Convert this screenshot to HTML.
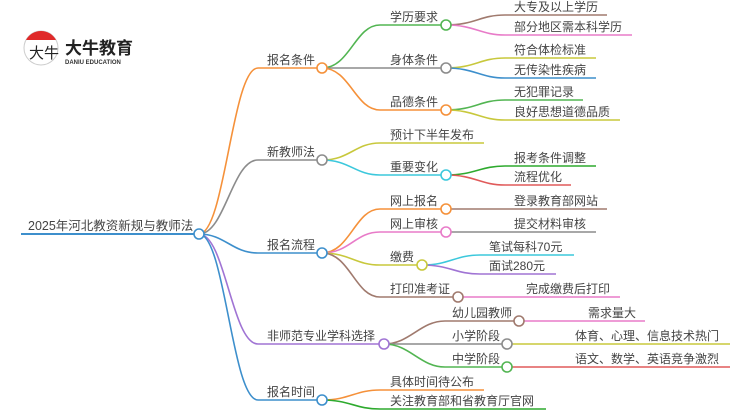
<!DOCTYPE html>
<html><head><meta charset="utf-8"><style>
body{margin:0;background:#fff;width:750px;height:410px;overflow:hidden}
text{font-family:"Liberation Sans","Noto Sans CJK SC",sans-serif;font-size:12px;fill:#444}
</style></head><body>
<svg width="750" height="410" viewBox="0 0 750 410" xmlns="http://www.w3.org/2000/svg" fill="none" stroke-width="1.6">
<!-- logo -->
<circle cx="41" cy="48" r="17" fill="#fff" stroke="#ccc" stroke-width="1"/>
<path d="M26 40 A17 17 0 0 1 56 40 Z" fill="#e02a2a" stroke="none"/>
<text x="29" y="58" style="font-size:15px;fill:#222">大牛</text>
<text x="65" y="54" style="font-size:17px;font-weight:bold;fill:#222">大牛教育</text>
<text x="65" y="64" style="font-size:6px;font-weight:bold;fill:#333">DANIU EDUCATION</text>

<!-- root -->
<path d="M21 234 H194" stroke="#3d8fcc" stroke-width="2"/>
<text x="28" y="230" style="font-size:12.5px">2025年河北教资新规与教师法</text>

<!-- root to level1 -->
<path d="M199 234 C225 234,232 68,258 68 H322" stroke="#f5913a"/>
<path d="M199 234 C225 234,232 160,258 160 H322" stroke="#8c8c8c"/>
<path d="M199 234 C225 234,232 253,258 253 H322" stroke="#3d8fcc"/>
<path d="M199 234 C225 234,232 344,258 344 H384" stroke="#a074d4"/>
<path d="M199 234 C225 234,232 400,258 400 H322" stroke="#3d8fcc"/>
<text x="267" y="64">报名条件</text>
<text x="267" y="156">新教师法</text>
<text x="267" y="249">报名流程</text>
<text x="267" y="340">非师范专业学科选择</text>
<text x="267" y="396">报名时间</text>

<!-- 报名条件 children -->
<path d="M322 68 C350 68,355 25,380 25 H446" stroke="#52b552"/>
<path d="M322 68 H446" stroke="#8c8c8c"/>
<path d="M322 68 C350 68,355 110,380 110 H446" stroke="#f5913a"/>
<text x="390" y="21">学历要求</text>
<text x="390" y="64">身体条件</text>
<text x="390" y="106">品德条件</text>
<path d="M446 25 C475 25,480 15,505 15 H607" stroke="#a07a6e"/>
<path d="M446 25 C475 25,480 35,505 35 H632" stroke="#e87bc8"/>
<path d="M446 68 C475 68,480 58,505 58 H596" stroke="#c8c83c"/>
<path d="M446 68 C475 68,480 78,505 78 H596" stroke="#3d8fcc"/>
<path d="M446 110 C475 110,480 100,505 100 H583" stroke="#52b552"/>
<path d="M446 110 C475 110,480 120,505 120 H620" stroke="#c8c83c"/>
<text x="514" y="11">大专及以上学历</text>
<text x="514" y="31">部分地区需本科学历</text>
<text x="514" y="54">符合体检标准</text>
<text x="514" y="74">无传染性疾病</text>
<text x="514" y="96">无犯罪记录</text>
<text x="514" y="116">良好思想道德品质</text>

<!-- 新教师法 -->
<path d="M322 160 C350 160,355 143,380 143 H484" stroke="#c8c83c"/>
<path d="M322 160 C350 160,355 175,380 175 H446" stroke="#3cc8dc"/>
<text x="390" y="139">预计下半年发布</text>
<text x="390" y="171">重要变化</text>
<path d="M446 175 C475 175,480 166,505 166 H596" stroke="#2eaa2e"/>
<path d="M446 175 C475 175,480 185,505 185 H571" stroke="#e05a5a"/>
<text x="514" y="162">报考条件调整</text>
<text x="514" y="181">流程优化</text>

<!-- 报名流程 -->
<path d="M322 253 C350 253,355 209,380 209 H446" stroke="#f5913a"/>
<path d="M322 253 C350 253,355 232,380 232 H446" stroke="#e87bc8"/>
<path d="M322 253 C350 253,355 265,380 265 H422" stroke="#c8c83c"/>
<path d="M322 253 C350 253,355 297,380 297 H458" stroke="#a07a6e"/>
<text x="390" y="205">网上报名</text>
<text x="390" y="228">网上审核</text>
<text x="390" y="261">缴费</text>
<text x="390" y="293">打印准考证</text>
<path d="M446 209 H607" stroke="#a07a6e"/>
<path d="M446 232 H596" stroke="#8c8c8c"/>
<path d="M422 265 C450 265,455 255,480 255 H574" stroke="#3cc8dc"/>
<path d="M422 265 C450 265,455 274,480 274 H556" stroke="#a074d4"/>
<path d="M458 297 H620" stroke="#e87bc8"/>
<text x="514" y="205">登录教育部网站</text>
<text x="514" y="228">提交材料审核</text>
<text x="489" y="251">笔试每科70元</text>
<text x="489" y="270">面试280元</text>
<text x="526" y="293">完成缴费后打印</text>

<!-- 非师范 -->
<path d="M384 344 C410 344,420 321,445 321 H519" stroke="#a07a6e"/>
<path d="M384 344 H507" stroke="#8c8c8c"/>
<path d="M384 344 C410 344,420 367,445 367 H507" stroke="#52b552"/>
<text x="452" y="317">幼儿园教师</text>
<text x="452" y="340">小学阶段</text>
<text x="452" y="363">中学阶段</text>
<path d="M519 321 H645" stroke="#e87bc8"/>
<path d="M507 344 H730" stroke="#c8c83c"/>
<path d="M507 367 H730" stroke="#e05a5a"/>
<text x="588" y="317">需求量大</text>
<text x="575" y="340">体育、心理、信息技术热门</text>
<text x="575" y="363">语文、数学、英语竞争激烈</text>

<!-- 报名时间 -->
<path d="M322 400 C350 400,355 390,380 390 H484" stroke="#f5913a"/>
<path d="M322 400 C350 400,355 409,380 409 H546" stroke="#2eaa2e"/>
<text x="390" y="386">具体时间待公布</text>
<text x="390" y="405">关注教育部和省教育厅官网</text>

<!-- circles -->
<g fill="#fff" stroke-width="1.6">
<circle cx="199" cy="234" r="5" stroke="#3d8fcc"/>
<circle cx="322" cy="68" r="5" stroke="#f5913a"/>
<circle cx="322" cy="160" r="5" stroke="#8c8c8c"/>
<circle cx="322" cy="253" r="5" stroke="#3d8fcc"/>
<circle cx="384" cy="344" r="5" stroke="#a074d4"/>
<circle cx="322" cy="400" r="5" stroke="#3d8fcc"/>
<circle cx="446" cy="25" r="5" stroke="#52b552"/>
<circle cx="446" cy="68" r="5" stroke="#8c8c8c"/>
<circle cx="446" cy="110" r="5" stroke="#f5913a"/>
<circle cx="446" cy="175" r="5" stroke="#3cc8dc"/>
<circle cx="446" cy="209" r="5" stroke="#f5913a"/>
<circle cx="446" cy="232" r="5" stroke="#e87bc8"/>
<circle cx="422" cy="265" r="5" stroke="#c8c83c"/>
<circle cx="458" cy="297" r="5" stroke="#a07a6e"/>
<circle cx="519" cy="321" r="5" stroke="#a07a6e"/>
<circle cx="507" cy="344" r="5" stroke="#8c8c8c"/>
<circle cx="507" cy="367" r="5" stroke="#52b552"/>
</g>
</svg>
</body></html>
